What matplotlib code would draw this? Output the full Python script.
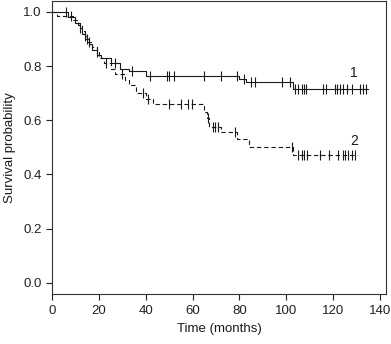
import numpy as np
import matplotlib
matplotlib.use('Agg')
import matplotlib.pyplot as plt

plt.rcParams['font.family'] = ['Liberation Sans', 'DejaVu Sans']

# Group 1 (solid): event times and survival after each step
t1 = [0, 7, 10, 12, 13, 14, 16, 17, 19, 21, 25, 29, 33, 40, 80, 83, 103]
s1 = [1.0, 0.98, 0.96, 0.94, 0.92, 0.90, 0.88, 0.86, 0.84, 0.83, 0.81, 0.79, 0.78, 0.765, 0.752, 0.741, 0.714]
end1 = 135
cens1 = [6, 12, 15, 27, 34, 42, 49, 50, 52, 65, 72, 79, 82, 85, 86.5, 98, 101.5,
         103.7, 105.1, 106.6, 107.6, 108.5, 115.8, 116.8, 120.8, 121.8, 122.9,
         124.1, 125.8, 127.9, 131.5, 132.9, 134]

# Group 2 (dashed)
t2 = [0, 2, 9, 11, 13, 14, 15, 17, 19, 20, 22, 25, 27, 31, 33, 36, 40, 43, 65, 66, 67, 72, 79, 84, 103]
s2 = [1.0, 0.985, 0.97, 0.95, 0.93, 0.91, 0.89, 0.87, 0.85, 0.83, 0.81, 0.79, 0.77, 0.75, 0.73, 0.70,
      0.68, 0.66, 0.63, 0.61, 0.575, 0.555, 0.53, 0.50, 0.47]
end2 = 130
cens2 = [8, 14, 16, 19, 23, 30, 39, 41, 50, 55, 58, 59.6, 66.6, 68.8, 69.7, 70.7, 78, 102.5,
         105.1, 106.6, 107.6, 108.7, 114.4, 118.4, 122.2, 124.1, 125.1, 126.5, 127.9, 129.3]

labels = ['1', '2']
label_pos = [(129, 0.775), (129, 0.525)]

col = '#1a1a1a'
fig = plt.figure(figsize=(3.91, 3.44), dpi=100)
ax = fig.add_axes([0.133, 0.145, 0.854, 0.852])


def draw(t, s, end, cens, ls):
    tx = list(t) + [end]
    sx = list(s) + [s[-1]]
    ax.step(tx, sx, where='post', color=col, lw=0.8, ls=ls)
    idx = np.searchsorted(t, cens, side='right') - 1
    cy = np.array(s)[idx]
    ax.plot(cens, cy, ls='none', marker='|', ms=6.5, mew=0.8, color=col)


draw(t1, s1, end1, cens1, '-')
draw(t2, s2, end2, cens2, (0, (4, 2.5)))

for lab, (x, y) in zip(labels, label_pos):
    ax.text(x, y, lab, fontsize=10, color=col, ha='center', va='center')

ax.set_xlim(0, 142.5)
ax.set_ylim(-0.042, 1.04)
ax.set_xticks(range(0, 141, 20))
ax.set_yticks([0.0, 0.2, 0.4, 0.6, 0.8, 1.0])
ax.set_yticklabels(['0.0', '0.2', '0.4', '0.6', '0.8', '1.0'])
ax.tick_params(labelsize=9.5, length=4, width=0.8, colors='#222222')
for sp in ax.spines.values():
    sp.set_color('#333333')
    sp.set_linewidth(0.8)
ax.set_xlabel('Time (months)', fontsize=9.5, color='#1a1a1a', labelpad=5)
ax.set_ylabel('Survival probability', fontsize=9.5, color='#1a1a1a', labelpad=5)

fig.savefig('out.png', dpi=100)
